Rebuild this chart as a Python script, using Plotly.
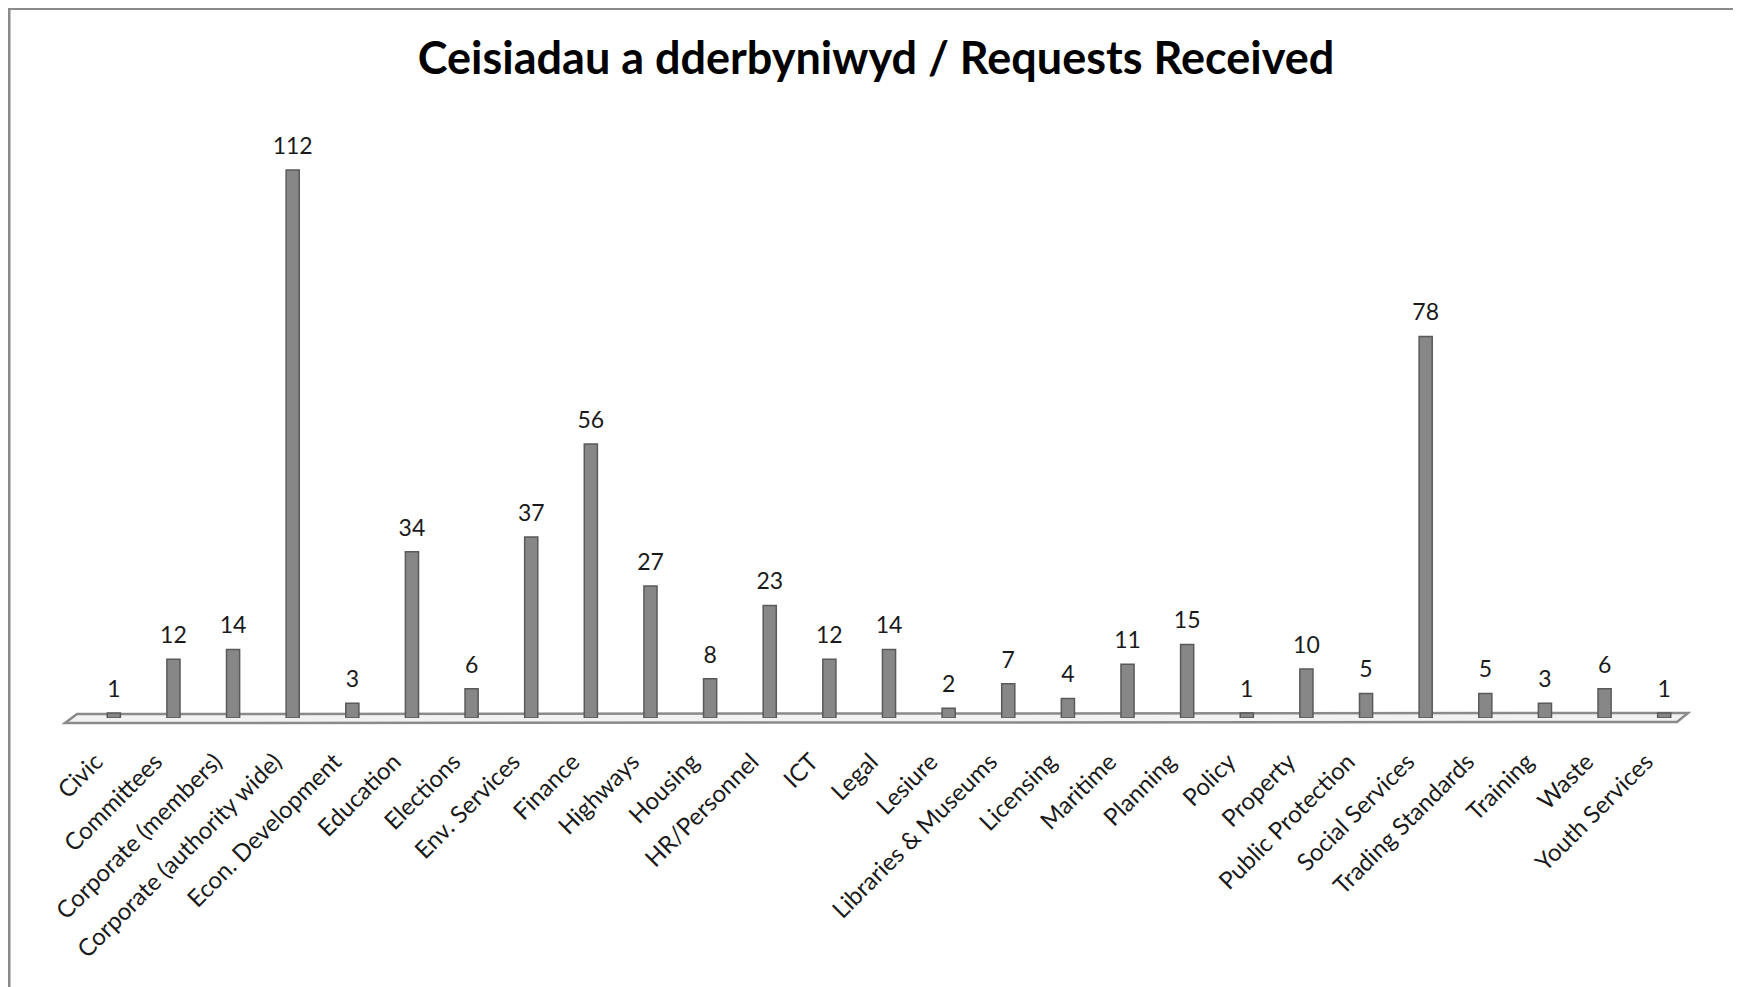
import plotly.graph_objects as go

categories = ["Civic", "Committees", "Corporate (members)", "Corporate (authority wide)",
              "Econ. Development", "Education", "Elections", "Env. Services", "Finance",
              "Highways", "Housing", "HR/Personnel", "ICT", "Legal", "Lesiure",
              "Libraries & Museums", "Licensing", "Maritime", "Planning", "Policy",
              "Property", "Public Protection", "Social Services", "Trading Standards",
              "Training", "Waste", "Youth Services"]
values = [1, 12, 14, 112, 3, 34, 6, 37, 56, 27, 8, 23, 12, 14, 2, 7, 4, 11, 15, 1,
          10, 5, 78, 5, 3, 6, 1]
title_text = "Ceisiadau a dderbyniwyd / Requests Received"

FONT = "Lato"
OFF = 8  # page body margin offset
PL, PT, PW, PH = 84 - OFF, 107 - OFF, 1610, 611  # plot area in figure px


def px(page_x):
    return (page_x - 84) / PW


def py(page_y):
    return (718 - page_y) / PH


fig = go.Figure()
fig.add_trace(go.Bar(
    x=categories, y=values,
    marker=dict(color="#878787", line=dict(color="#5a5a5a", width=1.5)),
    width=0.22, showlegend=False, hoverinfo="x+y",
))
fig.add_trace(go.Scatter(
    x=categories, y=values, mode="markers+text",
    text=[str(v) for v in values], textposition="top center",
    textfont=dict(family=FONT, size=23, color="#1a1a1a"),
    marker=dict(size=15, color="rgba(0,0,0,0)"),
    cliponaxis=False, showlegend=False, hoverinfo="skip",
))

fig.update_layout(
    width=1741, height=987,
    margin=dict(l=PL, r=1741 - PL - PW, t=PT, b=987 - PT - PH),
    paper_bgcolor="white", plot_bgcolor="rgba(0,0,0,0)",
    title=dict(text="<b>" + title_text + "</b>", x=(876 - OFF) / 1741, xanchor="center",
               y=1 - (58 - OFF) / 987, yanchor="middle",
               font=dict(family=FONT, size=45, color="#000000")),
    xaxis=dict(tickangle=-45, tickfont=dict(family=FONT, size=24, color="#1a1a1a"),
               showgrid=False, showline=False, ticks="", range=[-0.5, 26.5],
               ticklabelstandoff=24, ticklabelshift=-18),
    yaxis=dict(range=[0, 124.9], visible=False, showgrid=False),
    shapes=[
        dict(type="rect", xref="paper", yref="paper", layer="below",
             x0=(1 - PL) / PW, x1=1.2, y0=-1, y1=(PT + PH - 0.5) / PH,
             line=dict(color="#8a8a8a", width=3)),
        dict(type="path", xref="paper", yref="paper", layer="below",
             path="M {:.5f},{:.5f} L {:.5f},{:.5f} L {:.5f},{:.5f} L {:.5f},{:.5f} Z".format(
                 px(65), py(723), px(77), py(714), px(1688), py(713), px(1677), py(722)),
             fillcolor="#f2f2f2", line=dict(color="#8a8a8a", width=2.5)),
    ],
)

fig.write_html("out.html")
